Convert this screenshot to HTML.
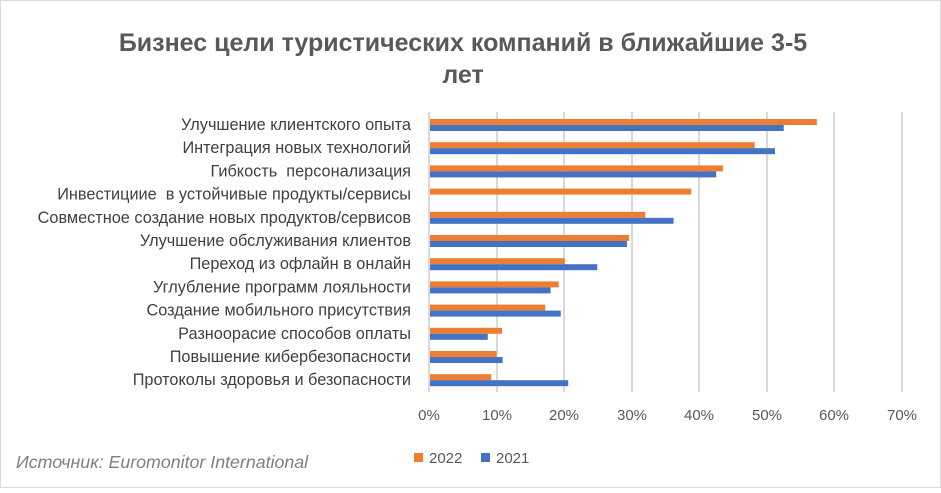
<!DOCTYPE html>
<html><head><meta charset="utf-8"><style>
body{margin:0;width:941px;height:488px;background:#fff;overflow:hidden;font-family:"Liberation Sans","DejaVu Sans",sans-serif}
</style></head><body>
<svg width="941" height="488" xmlns="http://www.w3.org/2000/svg" font-family="Liberation Sans, DejaVu Sans, sans-serif">
<rect x="0.5" y="0.5" width="940" height="487" fill="#fff" stroke="#d9d9d9"/>
<text x="463" y="51" text-anchor="middle" font-size="25" font-weight="bold" fill="#595959">Бизнес цели туристических компаний в ближайшие 3-5</text>
<text x="463" y="83" text-anchor="middle" font-size="25" font-weight="bold" fill="#595959">лет</text>
<g stroke="#d9d9d9" stroke-width="2">
<line x1="497" y1="112" x2="497" y2="392"/><line x1="564" y1="112" x2="564" y2="392"/><line x1="632" y1="112" x2="632" y2="392"/><line x1="699" y1="112" x2="699" y2="392"/><line x1="767" y1="112" x2="767" y2="392"/><line x1="834" y1="112" x2="834" y2="392"/><line x1="902" y1="112" x2="902" y2="392"/>
</g>
<g id="bars"></g>
<line x1="429" y1="112" x2="429" y2="392" stroke="#d9d9d9" stroke-width="2"/>
<g font-size="15" fill="#595959" text-anchor="middle">
<text x="429" y="420">0%</text><text x="497" y="420">10%</text><text x="564" y="420">20%</text><text x="632" y="420">30%</text><text x="699" y="420">40%</text><text x="767" y="420">50%</text><text x="834" y="420">60%</text><text x="902" y="420">70%</text>
</g>
<g font-size="16.3" fill="#404040" text-anchor="end" id="labels"></g>
<rect x="414" y="453" width="9" height="9" fill="#ed7d31"/><text x="429" y="463" font-size="15" fill="#595959">2022</text>
<rect x="481" y="453" width="9" height="9" fill="#4472c4"/><text x="496" y="463" font-size="15" fill="#595959">2021</text>
<text x="16" y="468" font-size="17.8" font-style="italic" fill="#7f7f7f">Источник: Euromonitor International</text>
</svg>
<script>
var d=[["Улучшение клиентского опыта",57.4,52.5],["Интеграция новых технологий",48.2,51.2],["Гибкость  персонализация",43.5,42.5],["Инвестициие  в устойчивые продукты/сервисы",38.8,0],["Совместное создание новых продуктов/сервисов",32,36.2],["Улучшение обслуживания клиентов",29.6,29.3],["Переход из офлайн в онлайн",20.1,24.9],["Углубление программ лояльности",19.2,18],["Создание мобильного присутствия",17.2,19.5],["Разноорасие способов оплаты",10.8,8.7],["Повышение кибербезопасности",10,10.9],["Протоколы здоровья и безопасности",9.2,20.6]];
var ns="http://www.w3.org/2000/svg",b=document.getElementById("bars"),l=document.getElementById("labels");
d.forEach(function(r,i){var y=119+i*23.2;
function rect(v,yy,c){if(!v)return;var e=document.createElementNS(ns,"rect");e.setAttribute("x",429);e.setAttribute("y",yy);e.setAttribute("width",v*6.757);e.setAttribute("height",6);e.setAttribute("fill",c);b.appendChild(e);}
rect(r[1],y,"#ed7d31");rect(r[2],y+6,"#4472c4");
var t=document.createElementNS(ns,"text");t.setAttribute("x",411);t.setAttribute("y",y+11);t.style.whiteSpace="pre";t.textContent=r[0];l.appendChild(t);});
</script>
</body></html>
